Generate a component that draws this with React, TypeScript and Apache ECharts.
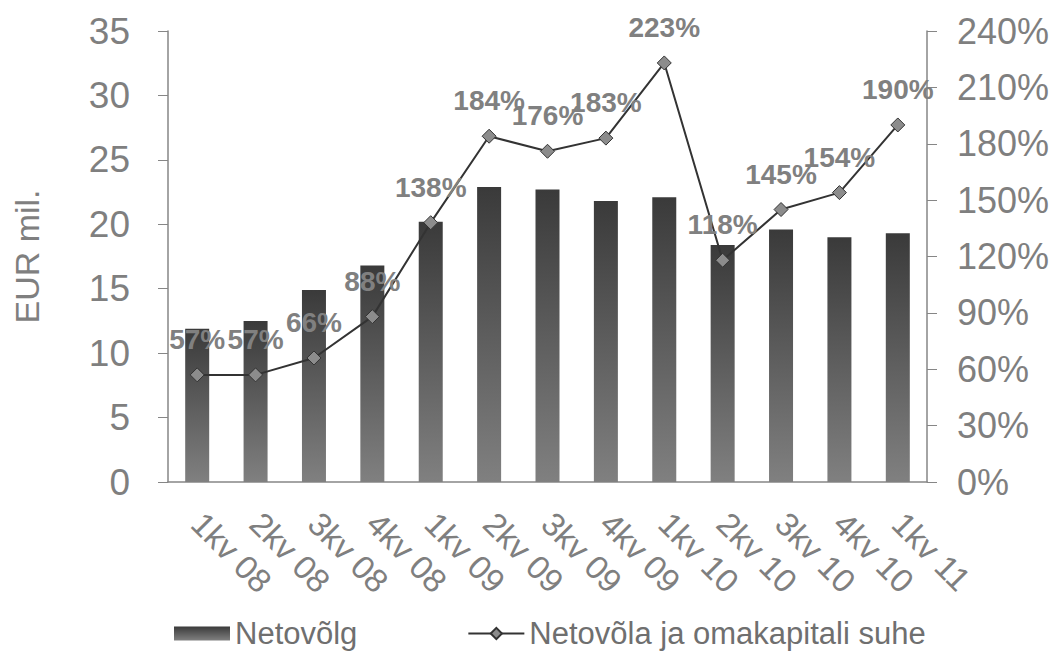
import React, { useEffect, useRef } from "react";
import * as echarts from "echarts";

const categories = ["1kv 08", "2kv 08", "3kv 08", "4kv 08", "1kv 09", "2kv 09", "3kv 09", "4kv 09", "1kv 10", "2kv 10", "3kv 10", "4kv 10", "1kv 11"];
const netDebt = [11.9, 12.5, 14.9, 16.8, 20.2, 22.9, 22.7, 21.8, 22.1, 18.4, 19.6, 19.0, 19.3];
const debtToEquity = [57, 57, 66, 88, 138, 184, 176, 183, 223, 118, 145, 154, 190];
const seriesNames = ["Netovõlg", "Netovõla ja omakapitali suhe"];
const leftAxisName = "EUR mil.";

const FONT = "'Liberation Sans', Arial, sans-serif";
const GREY = "#7f7f7f";

export default function App() {
  const ref = useRef<HTMLDivElement>(null);
  useEffect(() => {
    if (!ref.current) return;
    const chart = echarts.init(ref.current, undefined, { renderer: "svg" });
    const barColor = new echarts.graphic.LinearGradient(0, 0, 0, 1, [
      { offset: 0, color: "#3a3a3a" },
      { offset: 1, color: "#808080" },
    ]);
    chart.setOption({
      animation: false,
      backgroundColor: "#ffffff",
      textStyle: { fontFamily: FONT },
      grid: { left: 168, right: 132, top: 31, bottom: 174 },
      legend: {
        left: 169,
        top: 613,
        itemWidth: 56,
        itemHeight: 14,
        itemGap: 110,
        textStyle: { fontFamily: FONT, fontSize: 31, color: "#6f6f6f", padding: [0, 0, 0, 0] },
        data: [
          { name: seriesNames[0], icon: "rect" },
          { name: seriesNames[1] },
        ],
      },
      xAxis: {
        type: "category",
        data: categories,
        axisLine: { lineStyle: { color: "#868686", width: 1.5 } },
        axisTick: { show: false },
        axisLabel: {
          rotate: -45,
          margin: 36,
          interval: 0,
          fontSize: 33,
          color: GREY,
          fontFamily: FONT,
        },
      },
      yAxis: [
        {
          type: "value",
          min: 0,
          max: 35,
          interval: 5,
          name: leftAxisName,
          nameLocation: "middle",
          nameGap: 124,
          nameRotate: 90,
          nameTextStyle: { fontSize: 34, color: GREY, fontFamily: FONT },
          axisLine: { show: true, lineStyle: { color: "#868686", width: 1.5 } },
          axisTick: { show: true, inside: false, length: 10, lineStyle: { color: "#868686" } },
          axisLabel: { fontSize: 37, color: GREY, margin: 38, fontFamily: FONT },
          splitLine: { show: false },
        },
        {
          type: "value",
          min: 0,
          max: 240,
          interval: 30,
          position: "right",
          axisLine: { show: true, lineStyle: { color: "#868686", width: 1.5 } },
          axisTick: { show: true, inside: false, length: 10, lineStyle: { color: "#868686" } },
          axisLabel: { fontSize: 36, color: GREY, margin: 30, formatter: "{value}%", fontFamily: FONT },
          splitLine: { show: false },
        },
      ],
      series: [
        {
          name: seriesNames[0],
          type: "bar",
          data: netDebt,
          barWidth: 24,
          itemStyle: { color: barColor },
          yAxisIndex: 0,
        },
        {
          name: seriesNames[1],
          type: "line",
          data: debtToEquity,
          yAxisIndex: 1,
          symbol: "diamond",
          symbolSize: 14,
          lineStyle: { color: "#333333", width: 2 },
          itemStyle: { color: "#8c8c8c", borderColor: "#333333", borderWidth: 1 },
          label: {
            show: true,
            position: "top",
            distance: 14,
            formatter: "{c}%",
            fontSize: 28,
            fontWeight: "bold",
            color: "#808080",
            fontFamily: FONT,
          },
        },
      ],
    });
    return () => chart.dispose();
  }, []);
  return (
    <div
      ref={ref}
      style={{ position: "fixed", left: 0, top: 0, width: 1059, height: 656 }}
    />
  );
}
